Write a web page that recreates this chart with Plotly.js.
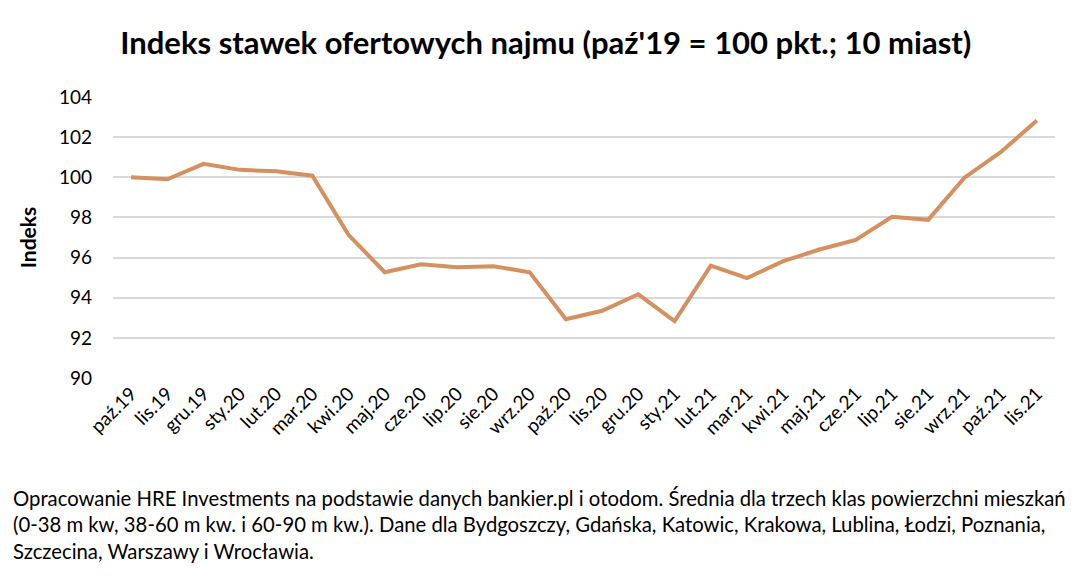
<!DOCTYPE html>
<html>
<head>
<meta charset="utf-8">
<script src="https://cdn.plot.ly/plotly-3.0.1.min.js"></script>
<style>html,body{margin:0;padding:0;background:#fff;}#chart{width:1083px;height:576px;}</style>
</head>
<body>
<div id="chart"></div>
<script>
const months = ["paź.19","lis.19","gru.19","sty.20","lut.20","mar.20","kwi.20","maj.20","cze.20","lip.20","sie.20","wrz.20","paź.20","lis.20","gru.20","sty.21","lut.21","mar.21","kwi.21","maj.21","cze.21","lip.21","sie.21","wrz.21","paź.21","lis.21"];
const indexValues = [100.0, 99.9, 100.67, 100.37, 100.3, 100.08, 97.13, 95.27, 95.67, 95.52, 95.57, 95.27, 92.93, 93.35, 94.17, 92.83, 95.6, 94.98, 95.82, 96.4, 96.88, 98.03, 97.88, 99.98, 101.25, 102.83];
const yTicks = [90, 92, 94, 96, 98, 100, 102, 104];
const titleText = "Indeks stawek ofertowych najmu (paź'19 = 100 pkt.; 10 miast)";
const yTitle = "Indeks";
const caption = "Opracowanie HRE Investments na podstawie danych bankier.pl i otodom. Średnia dla trzech klas powierzchni mieszkań<br>(0-38 m kw, 38-60 m kw. i 60-90 m kw.). Dane dla Bydgoszczy, Gdańska, Katowic, Krakowa, Lublina, Łodzi, Poznania,<br>Szczecina, Warszawy i Wrocławia.";

const FONT = "Lato, 'Open Sans', sans-serif";
const trace = {
  x: months, y: indexValues, type: "scatter", mode: "lines",
  line: {color: "rgb(213,144,95)", width: 4}, hoverinfo: "skip"
};
const layout = {
  width: 1083, height: 576,
  margin: {l: 113, r: 28, t: 97, b: 198},
  paper_bgcolor: "#fff", plot_bgcolor: "#fff",
  font: {family: FONT, color: "#000", size: 18},
  showlegend: false,
  title: {text: "<b>" + titleText + "</b>", x: 0.504, xanchor: "center", y: 0.925, yanchor: "middle",
          font: {family: FONT, size: 31, color: "#000"}},
  xaxis: {
    type: "category", range: [-0.5, 25.5], tickangle: -45, showgrid: false, zeroline: false,
    showline: false, ticks: "", tickfont: {family: FONT, size: 19, color: "#000"}, fixedrange: true
  },
  yaxis: {
    range: [90, 104], tickvals: yTicks, ticktext: yTicks.map(String), showgrid: true,
    gridcolor: "#d9d9d9", gridwidth: 2, zeroline: false, showline: false, ticks: "",
    ticklabelstandoff: 20,
    tickfont: {family: FONT, size: 19, color: "#000"},
    title: {text: "<b>" + yTitle + "</b>", font: {family: FONT, size: 21, color: "#000"}, standoff: 16},
    fixedrange: true
  },
  annotations: [{
    text: caption, xref: "paper", yref: "paper", x: -0.108, y: -0.377, xanchor: "left", yanchor: "top",
    align: "left", showarrow: false, font: {family: FONT, size: 20.3, color: "#000"}
  }]
};
Plotly.newPlot("chart", [trace], layout, {staticPlot: true, displayModeBar: false});
</script>
</body>
</html>
